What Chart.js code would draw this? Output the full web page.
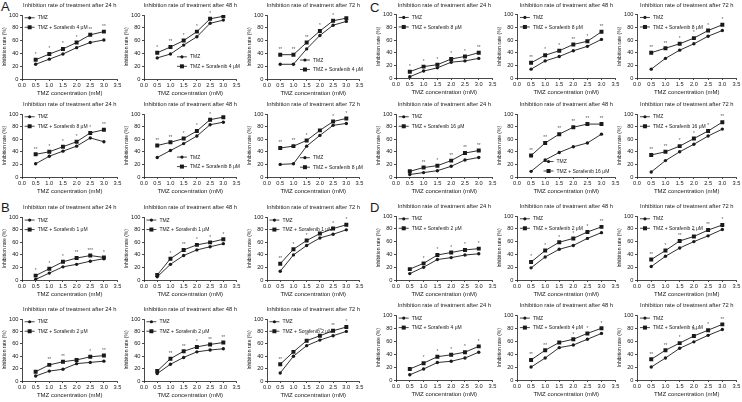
<!DOCTYPE html>
<html>
<head>
<meta charset="utf-8">
<script src="https://cdn.jsdelivr.net/npm/chart.js@4.4.1/dist/chart.umd.min.js"></script>
<style>
  html, body { margin: 0; padding: 0; background: #fff; }
  #fig { position: relative; width: 742px; height: 402px; overflow: hidden; font-family: "Liberation Sans", Arial, sans-serif; }
  #fig canvas { position: absolute; }
  .tag { position: absolute; font-size: 13px; line-height: 13px; color: #1a1a1a; }
</style>
</head>
<body>
<div id="fig">
  <div class="tag" style="left:1px;top:0px">A</div>
  <div class="tag" style="left:370px;top:1px">C</div>
  <div class="tag" style="left:1px;top:201px">B</div>
  <div class="tag" style="left:370px;top:201px">D</div>
</div>
<script>
// doses on the x axis (mM)
const doses = [0.5, 1.0, 1.5, 2.0, 2.5, 3.0];

// Panel A, Sorafenib 4 uM
const a4_24_tmz = [23, 31, 39, 49, 57, 61];
const a4_24_comb = [30, 39, 47, 57, 69, 74];
const a4_48_tmz = [33, 39, 53, 66, 87, 92];
const a4_48_comb = [41, 50, 60, 74, 94, 98];
const a4_72_tmz = [23, 23, 47, 68, 84, 90];
const a4_72_comb = [38, 38, 57, 75, 91, 95];
// Panel A, Sorafenib 8 uM
const a8_24_tmz = [21, 33, 41, 49, 62, 56];
const a8_24_comb = [36, 40, 48, 56, 70, 75];
const a8_48_tmz = [31, 42, 53, 65, 83, 87];
const a8_48_comb = [50, 55, 61, 73, 91, 95];
const a8_72_tmz = [20, 21, 49, 66, 82, 85];
const a8_72_comb = [46, 49, 58, 74, 88, 93];
// Panel C, Sorafenib 8 uM
const c8_24_tmz = [2, 11, 16, 25, 27, 31];
const c8_24_comb = [10, 18, 21, 30, 34, 40];
const c8_48_tmz = [14, 27, 34, 43, 50, 61];
const c8_48_comb = [24, 36, 43, 53, 58, 73];
const c8_72_tmz = [14, 31, 44, 54, 66, 75];
const c8_72_comb = [40, 47, 54, 63, 75, 84];
// Panel C, Sorafenib 16 uM
const c16_24_tmz = [4, 7, 10, 17, 27, 31];
const c16_24_comb = [9, 15, 18, 26, 38, 42];
const c16_48_tmz = [9, 27, 39, 48, 54, 68];
const c16_48_comb = [34, 54, 68, 79, 84, 84];
const c16_72_tmz = [8, 26, 40, 52, 65, 76];
const c16_72_comb = [35, 40, 49, 61, 73, 87];
// Panel B, Sorafenib 1 uM
const b1_24_tmz = [1, 11, 21, 25, 30, 34];
const b1_24_comb = [7, 18, 29, 35, 39, 36];
const b1_48_tmz = [5, 25, 39, 48, 53, 58];
const b1_48_comb = [8, 34, 48, 56, 60, 65];
const b1_72_tmz = [14, 40, 55, 67, 73, 80];
const b1_72_comb = [26, 49, 63, 74, 82, 88];
// Panel B, Sorafenib 2 uM
const b2_24_tmz = [8, 16, 19, 28, 30, 32];
const b2_24_comb = [15, 26, 31, 34, 39, 41];
const b2_48_tmz = [12, 27, 38, 47, 50, 52];
const b2_48_comb = [16, 36, 48, 55, 59, 62];
const b2_72_tmz = [13, 40, 57, 66, 73, 80];
const b2_72_comb = [27, 47, 65, 73, 81, 87];
// Panel D, Sorafenib 2 uM
const d2_24_tmz = [10, 20, 32, 35, 39, 41];
const d2_24_comb = [17, 26, 39, 43, 47, 49];
const d2_48_tmz = [19, 36, 48, 54, 65, 74];
const d2_48_comb = [28, 46, 59, 65, 75, 83];
const d2_72_tmz = [21, 37, 50, 60, 69, 79];
const d2_72_comb = [32, 46, 61, 68, 78, 86];
// Panel D, Sorafenib 4 uM
const d4_24_tmz = [8, 17, 27, 29, 34, 43];
const d4_24_comb = [17, 26, 36, 39, 43, 52];
const d4_48_tmz = [20, 34, 50, 54, 63, 72];
const d4_48_comb = [31, 46, 58, 63, 72, 80];
const d4_72_tmz = [20, 34, 49, 59, 69, 78];
const d4_72_comb = [32, 46, 57, 68, 77, 86];

// significance marks over the combination points
const a4_stars = [['*','*','*','*','**','**'], ['*','**','*','*','*',''], ['**','**','**','*','*','']];
const a8_stars = [['**','*','*','*','*','**'], ['**','**','*','*','*',''], ['**','**','*','','*','*']];
const c8_stars = [['*','*','*','*','*','**'], ['**','*','*','**','*','**'], ['**','**','*','*','*','*']];
const c16_stars = [['','**','*','**','**','**'], ['**','**','**','**','**','**'], ['**','**','*','*','*','**']];
const b1_stars = [['*','*','*','**','***','*'], ['','*','**','*','*','*'], ['**','*','*','','*','*']];
const b2_stars = [['','**','**','','*','**'], ['','**','**','*','**','**'], ['**','','**','**','**','*']];
const d2_stars = [['','*','*','*','*','*'], ['*','*','*','*','*','**'], ['**','*','**','*','**','*']];
const d4_stars = [['','*','*','*','*','*'], ['**','**','','*','*','*'], ['**','**','*','**','*','**']];

const FONT = '"Liberation Sans", Arial, sans-serif';
const INK = '#1a1a1a';

// plot-area pixel edges: [x at 0.0, x at 3.5] and [y at 100, y at 0]
const panelCols = {
  A: [[22, 118], [144, 237], [267, 360]],
  B: [[22, 118], [144, 237], [267, 360]],
  C: [[396, 493], [517, 616], [637, 737]],
  D: [[396, 493], [517, 616], [637, 737]]
};
const panelRows = {
  A: [[15, 78.7], [114, 176.7]],
  C: [[14.7, 78.3], [114, 176.7]],
  B: [[217.3, 280.3], [319, 381]],
  D: [[216, 280.3], [315.3, 380]]
};

// legend anchor as fraction of plot area
const TL = [0.08, 0.02];

const specs = [
  ['A', 0, 0, '24', a4_24_tmz, a4_24_comb, a4_stars[0], '4', TL],
  ['A', 0, 1, '48', a4_48_tmz, a4_48_comb, a4_stars[1], '4', [0.41, 0.63]],
  ['A', 0, 2, '72', a4_72_tmz, a4_72_comb, a4_stars[2], '4', [0.41, 0.68]],
  ['A', 1, 0, '24', a8_24_tmz, a8_24_comb, a8_stars[0], '8', TL],
  ['A', 1, 1, '48', a8_48_tmz, a8_48_comb, a8_stars[1], '8', [0.41, 0.66]],
  ['A', 1, 2, '72', a8_72_tmz, a8_72_comb, a8_stars[2], '8', [0.41, 0.67]],
  ['C', 0, 0, '24', c8_24_tmz, c8_24_comb, c8_stars[0], '8', TL],
  ['C', 0, 1, '48', c8_48_tmz, c8_48_comb, c8_stars[1], '8', TL],
  ['C', 0, 2, '72', c8_72_tmz, c8_72_comb, c8_stars[2], '8', TL],
  ['C', 1, 0, '24', c16_24_tmz, c16_24_comb, c16_stars[0], '16', TL],
  ['C', 1, 1, '48', c16_48_tmz, c16_48_comb, c16_stars[1], '16', [0.32, 0.73]],
  ['C', 1, 2, '72', c16_72_tmz, c16_72_comb, c16_stars[2], '16', TL],
  ['B', 0, 0, '24', b1_24_tmz, b1_24_comb, b1_stars[0], '1', TL],
  ['B', 0, 1, '48', b1_48_tmz, b1_48_comb, b1_stars[1], '1', TL],
  ['B', 0, 2, '72', b1_72_tmz, b1_72_comb, b1_stars[2], '1', TL],
  ['B', 1, 0, '24', b2_24_tmz, b2_24_comb, b2_stars[0], '2', TL],
  ['B', 1, 1, '48', b2_48_tmz, b2_48_comb, b2_stars[1], '2', TL],
  ['B', 1, 2, '72', b2_72_tmz, b2_72_comb, b2_stars[2], '2', TL],
  ['D', 0, 0, '24', d2_24_tmz, d2_24_comb, d2_stars[0], '2', TL],
  ['D', 0, 1, '48', d2_48_tmz, d2_48_comb, d2_stars[1], '2', TL],
  ['D', 0, 2, '72', d2_72_tmz, d2_72_comb, d2_stars[2], '2', TL],
  ['D', 1, 0, '24', d4_24_tmz, d4_24_comb, d4_stars[0], '4', TL],
  ['D', 1, 1, '48', d4_48_tmz, d4_48_comb, d4_stars[1], '4', TL],
  ['D', 1, 2, '72', d4_72_tmz, d4_72_comb, d4_stars[2], '4', TL]
];

// title, significance marks and the in-plot legend
const figText = {
  id: 'figText',
  afterDatasetsDraw(chart, args, opts) {
    const { ctx, chartArea: ca } = chart;
    ctx.save();
    ctx.textBaseline = 'middle';
    ctx.fillStyle = INK;
    ctx.font = `5.8px ${FONT}`;
    ctx.textAlign = 'center';
    ctx.fillText(opts.title, (ca.left + ca.right) / 2, ca.top - 9.5);

    ctx.fillStyle = '#555';
    ctx.font = `4.6px ${FONT}`;
    chart.getDatasetMeta(1).data.forEach((pt, i) => {
      if (opts.stars[i]) ctx.fillText(opts.stars[i], pt.x, pt.y - 5);
    });

    const lx = ca.left + opts.legend[0] * (ca.right - ca.left);
    const ly = ca.top + opts.legend[1] * (ca.bottom - ca.top) + 1.5;
    const labels = chart.data.datasets.map(d => d.label);
    ctx.strokeStyle = INK;
    ctx.fillStyle = INK;
    ctx.lineWidth = 0.8;
    ctx.textAlign = 'left';
    ctx.font = `5px ${FONT}`;
    labels.forEach((txt, i) => {
      const y = ly + i * 9.5;
      ctx.beginPath();
      ctx.moveTo(lx - 5, y);
      ctx.lineTo(lx + 5, y);
      ctx.stroke();
      if (i === 0) {
        ctx.beginPath();
        ctx.arc(lx, y, 1.6, 0, Math.PI * 2);
        ctx.fill();
      } else {
        ctx.fillRect(lx - 2, y - 2, 4, 4);
      }
      ctx.fillText(txt, lx + 8, y + 0.3);
    });
    ctx.restore();
  }
};

const fig = document.getElementById('fig');

specs.forEach(([panel, row, col, hours, tmz, comb, stars, dose, legend]) => {
  const [x0, x35] = panelCols[panel][col];
  const [yTop, yBot] = panelRows[panel][row];
  const left = Math.round(x0 - 22);
  const top = Math.round(yTop - 15);
  const width = Math.round(x35 + 5) - left;
  const height = Math.round(yBot + 19) - top;

  const canvas = document.createElement('canvas');
  canvas.width = width;
  canvas.height = height;
  canvas.style.left = left + 'px';
  canvas.style.top = top + 'px';
  canvas.style.width = width + 'px';
  canvas.style.height = height + 'px';
  fig.appendChild(canvas);

  const line = (label, vals, style, r) => ({
    label,
    data: doses.map((d, i) => ({ x: d, y: vals[i] })),
    borderColor: INK,
    backgroundColor: INK,
    borderWidth: 0.9,
    pointStyle: style,
    pointRadius: r,
    pointBorderWidth: 0,
    tension: 0
  });

  new Chart(canvas, {
    type: 'line',
    data: {
      datasets: [
        line('TMZ', tmz, 'circle', 1.7),
        line(`TMZ + Sorafenib ${dose} \u03bcM`, comb, 'rect', 2.8)
      ]
    },
    plugins: [figText],
    options: {
      responsive: false,
      animation: false,
      devicePixelRatio: 1,
      layout: { padding: { top: yTop - top, right: 5, left: 0, bottom: 0 } },
      plugins: {
        legend: { display: false },
        tooltip: { enabled: false },
        figText: { title: `Inhibition rate of treatment after ${hours} h`, stars, legend }
      },
      scales: {
        x: {
          type: 'linear',
          min: 0,
          max: 3.5,
          afterFit: s => { s.height = 19; },
          ticks: {
            stepSize: 0.5,
            color: INK,
            padding: 1.5,
            maxRotation: 0,
            font: { size: 5.7, family: FONT },
            callback: v => v.toFixed(1)
          },
          grid: { drawOnChartArea: false, drawTicks: true, tickLength: 2, color: INK, lineWidth: 0.8 },
          border: { display: true, color: INK, width: 0.8 },
          title: { display: true, text: 'TMZ concentration (mM)', color: INK, padding: { top: 0, bottom: 1 }, font: { size: 6, family: FONT } }
        },
        y: {
          min: 0,
          max: 100,
          afterFit: s => { s.width = 22; },
          ticks: {
            stepSize: 20,
            color: INK,
            padding: 1.5,
            font: { size: 5.7, family: FONT }
          },
          grid: { drawOnChartArea: false, drawTicks: true, tickLength: 2, color: INK, lineWidth: 0.8 },
          border: { display: true, color: INK, width: 0.8 },
          title: { display: true, text: 'Inhibition rate (%)', color: INK, padding: { top: 2, bottom: 0 }, font: { size: 5, family: FONT } }
        }
      }
    }
  });
});
</script>
</body>
</html>
